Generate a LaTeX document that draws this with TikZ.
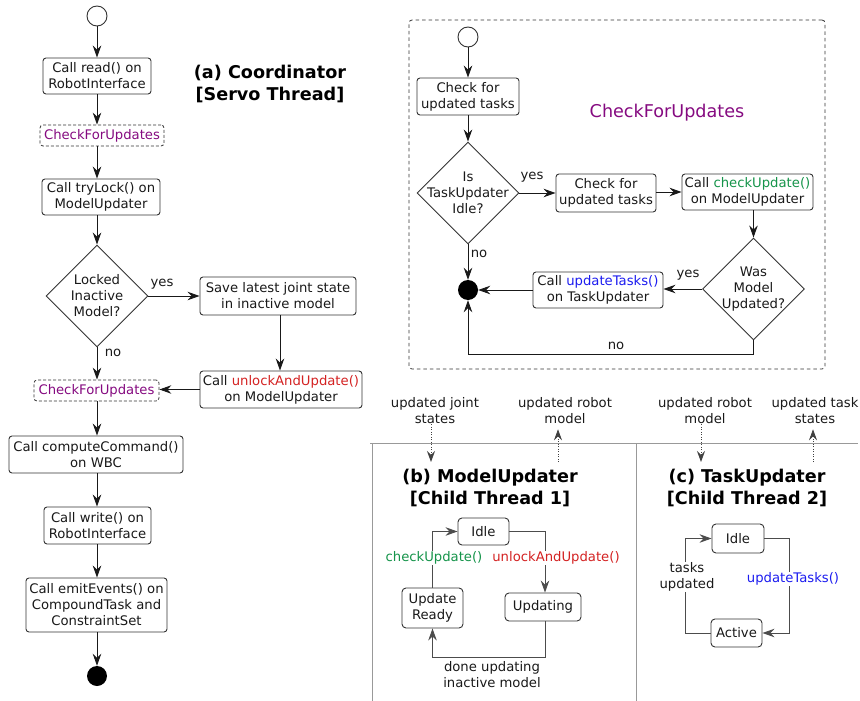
\documentclass[tikz,border=0pt]{standalone}
\usepackage{fontspec}
\setmainfont{DejaVu Sans}
\usetikzlibrary{shapes.geometric,arrows.meta}
\definecolor{cpurple}{HTML}{850A80}
\definecolor{cgreen}{HTML}{15944A}
\definecolor{cred}{HTML}{D42222}
\definecolor{cblue}{HTML}{1C1CF0}
\begin{document}
\begin{tikzpicture}[x=1pt,y=-1pt,
  every node/.style={font=\fontsize{13.2}{16}\selectfont, text=black!90, inner sep=0pt},
  box/.style={draw=black!80, line width=0.9pt, rounded corners=3pt, align=center, fill=white},
  dbox/.style={draw=black!80, line width=0.8pt, dash pattern=on 3pt off 2pt, rounded corners=3pt, align=center},
  state/.style={draw=black!80, line width=0.9pt, rounded corners=4pt, align=center, fill=white},
  dia/.style={draw=black!80, line width=0.9pt, shape=diamond, minimum width=102pt, minimum height=102pt, inner sep=0pt},
  dtext/.style={align=center},
  startc/.style={circle, draw=black!80, line width=0.9pt, minimum size=20pt, fill=white},
  endc/.style={circle, fill=black, minimum size=20pt},
  title/.style={font=\bfseries\fontsize{17.6}{22}\selectfont, align=center, text=black},
  txt/.style={align=center},
  flow/.style={-{Stealth[length=12pt,width=8.5pt,inset=4pt]}, line width=0.9pt, draw=black!90},
  sedge/.style={-{Stealth[length=12pt,width=8.5pt,inset=4pt]}, line width=0.9pt, draw=black!70},
  dotarrow/.style={-{Stealth[length=11pt,width=8pt,inset=4pt]}, line width=0.8pt, draw=black!75, dash pattern=on 1pt off 1.5pt},
  sep/.style={draw=black!40, line width=0.9pt},
  lbl/.style={fill=white, inner sep=1pt}
]
\useasboundingbox (0,0) rectangle (860,701);

% ---------------- (a) Coordinator ----------------
\node[title] (ta) at (270,84) {(a) Coordinator\\{[}Servo Thread{]}};

\node[startc] (s) at (97,16) {};
\node[box, minimum width=108pt, minimum height=36pt] (read) at (97,76) {Call read() on\\RobotInterface};
\node[dbox, minimum width=124pt, minimum height=21pt] (cfu1) at (102,135.5) {\textcolor{cpurple}{CheckForUpdates}};
\node[box, minimum width=118pt, minimum height=36pt] (lock) at (101,197) {Call tryLock() on\\ModelUpdater};
\node[dia] (locked) at (97,296) {};
\node[dtext] (lockedt) at (97,296) {Locked\\Inactive\\Model?};
\node[box, minimum width=156pt, minimum height=38pt] (save) at (278,296) {Save latest joint state\\in inactive model};
\node[box, minimum width=162pt, minimum height=37pt] (unlock) at (281,389.5) {Call \textcolor{cred}{unlockAndUpdate()}\\on ModelUpdater};
\node[dbox, minimum width=125pt, minimum height=21pt] (cfu2) at (96.5,390.5) {\textcolor{cpurple}{CheckForUpdates}};
\node[box, minimum width=174pt, minimum height=37pt] (cc) at (96,454.5) {Call computeCommand()\\on WBC};
\node[box, minimum width=107pt, minimum height=37pt] (write) at (97.5,525.5) {Call write() on\\RobotInterface};
\node[box, minimum width=141pt, minimum height=54pt] (emit) at (96.5,605) {Call emitEvents() on\\CompoundTask and\\ConstraintSet};
\node[endc] (e) at (97,676) {};

\node (yes1) at (162,284) {yes};
\node (no1) at (113,353) {no};

\draw[flow] (s.south) -- (s.south |- read.north);
\draw[flow] (read.south -| s) -- (s |- cfu1.north);
\draw[flow] (cfu1.south -| s) -- (s |- lock.north);
\draw[flow] (lock.south -| s) -- (locked.north);
\draw[flow] (locked.east) -- (save.west |- locked.east);
\draw[flow] ([xshift=2pt]save.south) -- ([xshift=2pt]save.south |- unlock.north);
\draw[flow] (unlock.west) -- (cfu2.east |- unlock.west);
\draw[flow] (locked.south) -- (s |- cfu2.north);
\draw[flow] (cfu2.south -| s) -- (s |- cc.north);
\draw[flow] (cc.south -| s) -- (s |- write.north);
\draw[flow] (write.south -| s) -- (s |- emit.north);
\draw[flow] (emit.south -| s) -- (e.north);

% ---------------- CheckForUpdates ----------------
\node[draw=black!80, line width=0.8pt, dash pattern=on 3.5pt off 3pt, rounded corners=3pt, minimum width=416pt, minimum height=349pt] (frame) at (617,194.5) {};
\node[font=\fontsize{17.6}{22}\selectfont, text=cpurple] (cfutitle) at (667,113) {CheckForUpdates};

\node[startc] (s2) at (468,37) {};
\node[box, minimum width=102pt, minimum height=37pt] (chk1) at (468,96.5) {Check for\\updated tasks};
\node[dia] (idle) at (468,193) {};
\node[dtext] (idlet) at (468,193) {Is\\TaskUpdater\\Idle?};
\node[box, minimum width=100pt, minimum height=38pt] (chk2) at (606,193) {Check for\\updated tasks};
\node[box, minimum width=131pt, minimum height=36pt] (cu) at (747.5,192) {Call \textcolor{cgreen}{checkUpdate()}\\on ModelUpdater};
\node[dia] (was) at (753.5,289) {};
\node[dtext] (wast) at (753.5,289) {Was\\Model\\Updated?};
\node[box, minimum width=130pt, minimum height=36pt] (ut) at (598,290) {Call \textcolor{cblue}{updateTasks()}\\on TaskUpdater};
\node[endc] (e2) at (468,290) {};

\node (yes2) at (532,177) {yes};
\node (yes3) at (688,275) {yes};
\node (no2) at (479,254) {no};
\node (no3) at (616,346) {no};

\draw[flow] (s2.south) -- (chk1.north);
\draw[flow] (chk1.south) -- (idle.north);
\draw[flow] (idle.east) -- (chk2.west |- idle.east);
\draw[flow] (chk2.east |- cu.west) -- (cu.west);
\draw[flow] (cu.south -| was) -- (was.north);
\draw[flow] (was.west) -- (ut.east |- was.west);
\draw[flow] (ut.west) -- (e2.east);
\draw[flow] (idle.south) -- (e2.north);
\coordinate (nob) at (753.5,354);
\draw[flow] (was.south) -- (nob) -| (e2.south);

% ---------------- separators ----------------
\coordinate (sepL) at (370,443);
\coordinate (sepR) at (858,443);
\coordinate (v1t) at (372,443);
\coordinate (v1b) at (372,701);
\coordinate (v2t) at (636,443);
\coordinate (v2b) at (636,701);
\draw[sep] (sepL) -- (sepR);
\draw[sep] (v1t) -- (v1b);
\draw[sep] (v2t) -- (v2b);

% ---------------- (b) ModelUpdater ----------------
\node[txt] (ujs) at (435,411) {updated joint\\states};
\node[txt] (urm1) at (565,411) {updated robot\\model};
\coordinate (ujsEnd) at (431,462);
\coordinate (urm1Start) at (558,462);
\draw[dotarrow] (ujs.south -| ujsEnd) -- (ujsEnd);
\draw[dotarrow] (urm1Start) -- ([yshift=-5pt]urm1.south -| urm1Start);

\node[title] (tb) at (490,488) {(b) ModelUpdater\\{[}Child Thread 1{]}};
\node[state, minimum width=51pt, minimum height=27pt] (idleb) at (483.5,531.5) {Idle};
\node[state, minimum width=61pt, minimum height=40pt] (ready) at (432.5,608) {Update\\Ready};
\node[state, minimum width=76pt, minimum height=28pt] (updating) at (543,607) {Updating};

\draw[sedge] (idleb.east) -| ([xshift=2pt]updating.north);
\draw[sedge] ([xshift=2pt]updating.south) -- ++(0,36) -| (ready.south);
\draw[sedge] (ready.north) |- (idleb.west);
\node[lbl, text=cgreen] (lcu) at (434,558) {checkUpdate()};
\node[lbl, text=cred] (lua) at (556,558) {unlockAndUpdate()};
\node[txt] (ldone) at (492,675) {done updating\\inactive model};

% ---------------- (c) TaskUpdater ----------------
\node[txt] (urm2) at (705,411) {updated robot\\model};
\node[txt] (uts) at (815,411) {updated task\\states};
\coordinate (urm2End) at (701,462);
\coordinate (utsStart) at (813,462);
\draw[dotarrow] (urm2.south -| urm2End) -- (urm2End);
\draw[dotarrow] (utsStart) -- ([yshift=-5pt]uts.south -| utsStart);

\node[title] (tc) at (747,488) {(c) TaskUpdater\\{[}Child Thread 2{]}};
\node[state, minimum width=52pt, minimum height=29pt] (idlec) at (738,538.5) {Idle};
\node[state, minimum width=51pt, minimum height=28pt] (active) at (736.5,633) {Active};

\draw[sedge] (idlec.east) -- ++(25,0) |- (active.east);
\draw[sedge] (active.west) -- ++(-25,0) |- (idlec.west);
\node[lbl, text=cblue] (lut) at (793,579) {updateTasks()};
\node[lbl, txt] (ltu) at (687,577) {tasks\\updated};
\end{tikzpicture}
\end{document}
